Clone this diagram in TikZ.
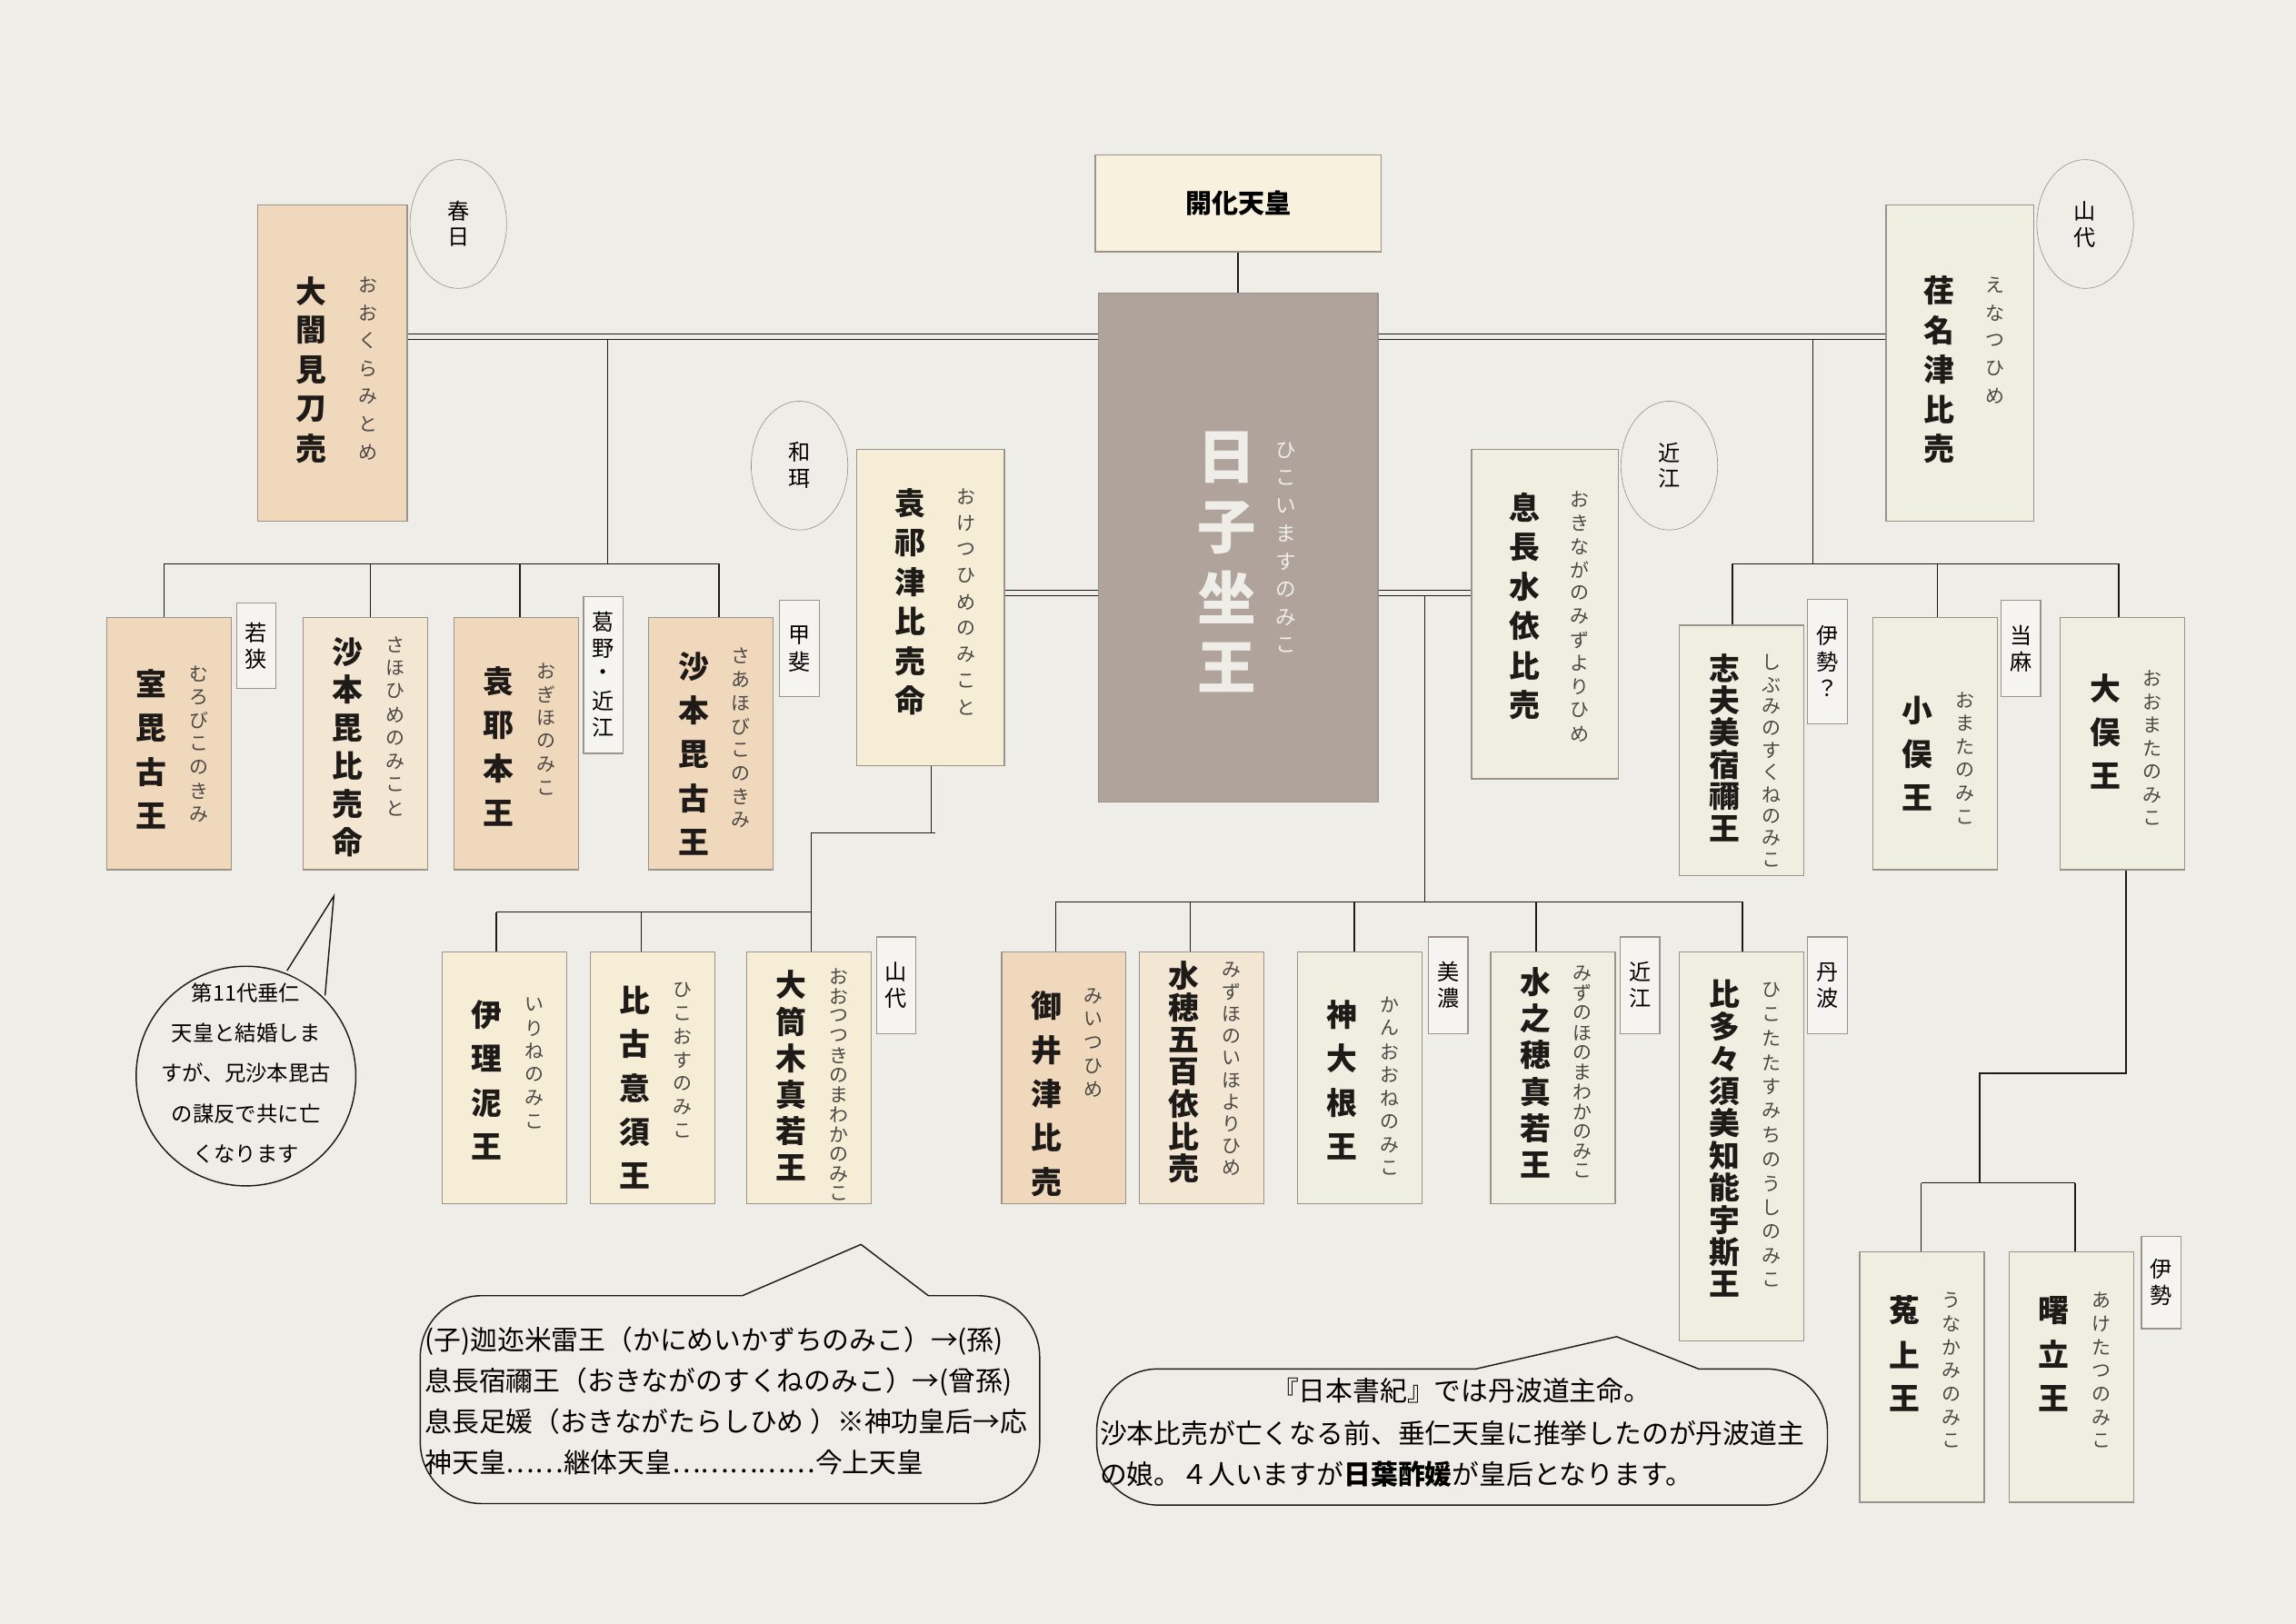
\documentclass[tikz,border=0pt]{standalone}
\usepackage{fontspec}
\setmainfont{Noto Sans CJK JP}
\usepackage{xcolor}
\usetikzlibrary{shapes.geometric}

\definecolor{bgc}{HTML}{EFEDE8}
\definecolor{peach}{HTML}{F0D8BC}
\definecolor{pale}{HTML}{F3E6D2}
\definecolor{cream}{HTML}{F5EDD5}
\definecolor{lite}{HTML}{EFEFE1}
\definecolor{taupe}{HTML}{B0A39C}
\definecolor{edge}{HTML}{9C928A}
\definecolor{ink}{HTML}{1E1A18}

% vertical stack of characters
\def\vtend{\vtend}
\newcommand\vt[2][18pt]{\vbox{\offinterlineskip\def\vtpitch{#1}\vtA#2\vtend}}
\def\vtA#1{\ifx#1\vtend\else\hbox to 1em{\hss\vbox to \vtpitch{\vss\hbox{#1}\vss}\hss}\expandafter\vtA\fi}

\def\kp{30pt}
\def\hp{16pt}
\newcommand\person[9]{%
  \path ({(#3+#5)/2},{(#4+#6)/2}) node[kid,fill=#2,minimum width={#5-#3},minimum height={#6-#4}] (#1) {};
  \path ({#3+0.36*(#5-#3)},#9) node[kanji] {\vt[\kp]{#7}};
  \path ({#3+0.74*(#5-#3)},#9) node[kana] {\vt[\hp]{#8}};}

\tikzset{
  kid/.style={draw=edge, line width=0.8pt, inner sep=0},
  kanji/.style={anchor=north, inner sep=0, text=ink, font=\fontsize{21}{21}\selectfont\bfseries},
  kana/.style={anchor=north, inner sep=0, text=ink!80, font=\fontsize{13}{13}\selectfont},
  tag/.style={draw=edge, fill=bgc!60!white, line width=0.8pt, minimum width=27, inner sep=0, font=\fontsize{15}{15}\selectfont},
  place/.style={draw=edge, ellipse, minimum width=66, minimum height=88, inner sep=0, font=\fontsize{15}{15}\selectfont},
  link/.style={draw=ink, line width=0.9pt},
  dbl/.style={draw=ink, line width=0.6pt, double=bgc, double distance=3.5pt},
  note/.style={draw=ink, line width=0.9pt, fill=bgc}
}

\begin{document}
\begin{tikzpicture}[x=1pt, y=-1pt]
  \fill[bgc] (0,0) rectangle (1568,1109);
  \useasboundingbox (0,0) rectangle (1568,1109);

  % centre
  \path (845.5,139) node [kid, fill=cream!80!white, minimum width=195, minimum height=66,
    font=\fontsize{18}{18}\selectfont\bfseries] (kaika) {開化天皇};
  \path (845.5,374) node [kid, fill=taupe, minimum width=191, minimum height=348] (hiko) {};
  \path (838,288) node [anchor=north, inner sep=0, text=bgc, font=\fontsize{40}{40}\selectfont\bfseries] {\vt[48pt]{日子坐王}};
  \path (878,298) node [anchor=north, inner sep=0, text=bgc, font=\fontsize{14}{14}\selectfont] {\vt[19pt]{ひこいますのみこ}};
  \draw[link] (kaika) -- (hiko);

  % wives
  \def\kp{27pt}\def\hp{19pt}
  \person{okura}{peach}{176}{140}{278}{356}{大闇見刀売}{おおくらみとめ}{185}
  \person{ena}{lite}{1288}{140}{1389}{356}{荏名津比売}{えなつひめ}{185}
  \def\kp{27pt}\def\hp{18pt}
  \person{oke}{cream}{585}{307}{686}{523}{袁祁津比売命}{おけつひめのみこと}{330}
  \def\kp{27pt}\def\hp{16pt}
  \person{oki}{lite}{1005}{307}{1105}{532}{息長水依比売}{おきながのみずよりひめ}{333}
  \path (313,153) node [place] (kasuga) {\vt{春日}};
  \path (1424,153) node [place] (yamashiro) {\vt{山代}};
  \path (546,318) node [place] (wani) {\vt{和珥}};
  \path (1140,318) node [place] (omi) {\vt{近江}};

  % children
  \def\kp{30pt}\def\hp{16pt}
  \person{muro}{peach}{73}{422}{158}{594}{室毘古王}{むろびこのきみ}{452}
  \person{ogiho}{peach}{310}{422}{395}{594}{袁耶本王}{おぎほのみこ}{450}
  \person{sahohiko}{peach}{443}{422}{528}{594}{沙本毘古王}{さあほびこのきみ}{440}
  \person{iri}{cream}{302}{650}{387}{822}{伊理泥王}{いりねのみこ}{678}
  \person{hikoosu}{cream}{403}{650}{488}{822}{比古意須王}{ひこおすのみこ}{668}
  \person{mii}{peach}{684}{650}{769}{822}{御井津比売}{みいつひめ}{672}
  \person{kanoone}{lite}{886}{650}{971}{822}{神大根王}{かんおおねのみこ}{678}
  \person{omata}{lite}{1279}{422}{1364}{594}{小俣王}{おまたのみこ}{470}
  \person{oomata}{lite}{1407}{422}{1492}{594}{大俣王}{おおまたのみこ}{455}
  \person{unakami}{lite}{1270}{855}{1355}{1026}{菟上王}{うなかみのみこ}{880}
  \person{akeda}{lite}{1372}{855}{1457}{1026}{曙立王}{あけたつのみこ}{880}
  \def\kp{26pt}\def\hp{16pt}
  \person{sahohime}{pale}{207}{422}{292}{594}{沙本毘比売命}{さほひめのみこと}{432}
  \def\kp{25pt}\def\hp{13.5pt}
  \person{ootsutsu}{cream}{510}{650}{595}{822}{大筒木真若王}{おおつつきのまわかのみこ}{660}
  \person{mizunoho}{lite}{1018}{650}{1103}{822}{水之穂真若王}{みずのほのまわかのみこ}{658}
  \def\kp{22pt}\def\hp{15pt}
  \person{mizuho}{pale}{778}{650}{863}{822}{水穂五百依比売}{みずほのいほよりひめ}{655}
  \person{shibumi}{lite}{1147}{427}{1232}{598}{志夫美宿禰王}{しぶみのすくねのみこ}{445}
  \def\kp{22pt}\def\hp{16.5pt}
  \person{hita}{lite}{1147}{650}{1232}{916}{比多々須美知能宇斯王}{ひこたたすみちのうしのみこ}{668}

  % regions
  \path (175,441) node [tag, minimum height=58] (wakasa) {\vt{若狭}};
  \path (412,461) node [tag, minimum height=107] (kadono) {\vt{葛野・近江}};
  \path (546,443) node [tag, minimum height=66] (kai) {\vt{甲斐}};
  \path (612,673) node [tag, minimum height=66] (yamashiro2) {\vt{山代}};
  \path (989,673) node [tag, minimum height=66] (mino) {\vt{美濃}};
  \path (1120,673) node [tag, minimum height=66] (omi2) {\vt{近江}};
  \path (1248,673) node [tag, minimum height=66] (tamba) {\vt{丹波}};
  \path (1248,452) node [tag, minimum height=85] (ise1) {\vt{伊勢？}};
  \path (1380,443) node [tag, minimum height=66] (taima) {\vt{当麻}};
  \path (1476,876) node [tag, minimum height=63] (ise2) {\vt{伊勢}};

  % lines
  \draw[dbl] (hiko.west |- 0,230) -- (okura.east |- 0,230);
  \draw[dbl] (hiko.east |- 0,230) -- (ena.west |- 0,230);
  \draw[dbl] (hiko.west |- 0,405) -- (oke.east |- 0,405);
  \draw[dbl] (hiko.east |- 0,405) -- (oki.west |- 0,405);

  \draw[link] (415,232) -- (415,385);
  \draw[link] (112,385) -- (491,385);
  \foreach \x/\k in {112/muro, 253/sahohime, 355/ogiho, 491/sahohiko}
    \draw[link] (\x,385) -- (\k.north -| \x,0);

  \draw[link] (1238,232) -- (1238,385);
  \draw[link] (1183,385) -- (1447,385);
  \foreach \x/\k in {1183/shibumi, 1323/omata, 1447/oomata}
    \draw[link] (\x,385) -- (\k.north -| \x,0);

  \draw[link] (oke.south -| 636,0) -- (636,569);
  \draw[link] (554,569) -- (639,569);
  \draw[link] (554,569) -- (ootsutsu.north -| 554,0);
  \draw[link] (339,623) -- (554,623);
  \foreach \x/\k in {339/iri, 438/hikoosu}
    \draw[link] (\x,623) -- (\k.north -| \x,0);

  \draw[link] (973,407) -- (973,616);
  \draw[link] (721,616) -- (1190,616);
  \foreach \x/\k in {721/mii, 813/mizuho, 925/kanoone, 1049/mizunoho, 1190/hita}
    \draw[link] (\x,616) -- (\k.north -| \x,0);

  \draw[link] (oomata.south -| 1452,0) -- (1452,733) -- (1352,733) -- (1352,808);
  \draw[link] (1312,808) -- (1417,808);
  \foreach \x/\k in {1312/unakami, 1417/akeda}
    \draw[link] (\x,808) -- (\k.north -| \x,0);

  % notes
  \draw[note] (168,735) circle (75);
  \fill[bgc] (199,666) -- (227,616) -- (219,677) -- cycle;
  \draw[link] (196,663) -- (228,612) -- (222,680);
  \path (168,733) node [align=center, inner sep=0, font=\fontsize{14.5}{27.5}\selectfont] (sahonote)
    {第11代垂仁\\天皇と結婚しま\\すが、兄沙本毘古\\の謀反で共に亡\\くなります};

  \draw[note] (634,885) [rounded corners=42] -- (710,885) -- (710,1027) -- (287,1027) -- (287,885) [sharp corners] -- (507,885) -- (588,850) -- cycle;
  \path (290,957) node [anchor=west, align=left, inner sep=0, font=\fontsize{18.5}{28}\selectfont] (kanime)
    {(子)迦迩米雷王（かにめいかずちのみこ）→(孫)\\息長宿禰王（おきながのすくねのみこ）→(曾孫)\\息長足媛（おきながたらしひめ ）※神功皇后→応\\神天皇……継体天皇……………今上天皇};

  \draw[note] (1160,935) [rounded corners=42] -- (1248,935) -- (1248,1028) -- (749,1028) -- (749,935) [sharp corners] -- (1008,935) -- (1104,913) -- cycle;
  \path (998,950) node [inner sep=0, font=\fontsize{18.5}{18.5}\selectfont] (shoki) {『日本書紀』では丹波道主命。};
  \path (751,993) node [anchor=west, align=left, inner sep=0, font=\fontsize{18.5}{28}\selectfont] (hibasu)
    {沙本比売が亡くなる前、垂仁天皇に推挙したのが丹波道主\\の娘。４人いますが\textbf{日葉酢媛}が皇后となります。};
\end{tikzpicture}
\end{document}
